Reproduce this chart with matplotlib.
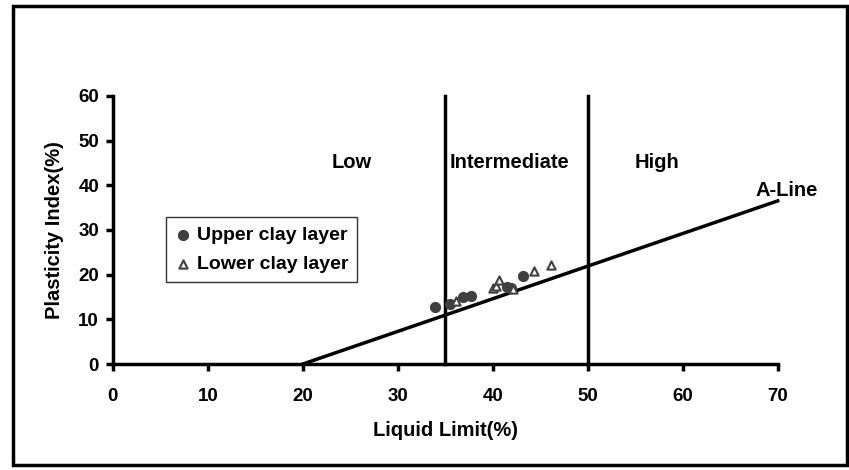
import matplotlib.pyplot as plt
from matplotlib.patches import Rectangle

plt.rcParams['font.family'] = ['Liberation Sans', 'DejaVu Sans']
plt.rcParams['font.weight'] = 'bold'

# plasticity chart data
upper_ll = [33.9, 35.5, 36.9, 37.7, 41.5, 41.9, 43.2]
upper_pi = [12.8, 13.4, 15.0, 15.2, 17.3, 16.9, 19.7]
lower_ll = [36.1, 40.0, 40.3, 40.7, 42.1, 44.3, 46.1]
lower_pi = [14.2, 17.0, 17.5, 18.7, 16.7, 20.9, 22.2]

aline_ll = [20, 70]
aline_pi = [0, 36.5]
bounds = [35, 50]
zones = ['Low', 'Intermediate', 'High']
zone_x = [25.1, 41.8, 57.3]

fig = plt.figure(figsize=(8.49, 4.70), dpi=100)
ax = fig.add_axes([0.133, 0.2255, 0.783, 0.5705])

for b in bounds:
    ax.plot([b, b], [0, 60], color='black', lw=2.5, clip_on=False, zorder=2)
ax.plot(aline_ll, aline_pi, color='black', lw=2.5, clip_on=False, zorder=2)

ax.scatter(upper_ll, upper_pi, s=50, color='#404040', marker='o', zorder=3,
           label='Upper clay layer')
ax.scatter(lower_ll, lower_pi, s=35, facecolor='white', edgecolor='#404040',
           linewidth=1.5, marker='^', zorder=3, label='Lower clay layer')

for name, x in zip(zones, zone_x):
    ax.text(x, 45, name, ha='center', va='center', fontsize=14.5, fontweight='bold')
ax.text(71.0, 38.8, 'A-Line', ha='center', va='center', fontsize=14.5, fontweight='bold')

ax.set_xlim(0, 70)
ax.set_ylim(0, 60)
ax.set_xticks(range(0, 71, 10))
ax.set_yticks(range(0, 61, 10))
ax.tick_params(width=2.5, length=5, labelsize=13.5)
ax.tick_params(axis='x', pad=12)
ax.tick_params(axis='y', pad=5)
ax.spines['top'].set_visible(False)
ax.spines['right'].set_visible(False)
ax.spines['left'].set_linewidth(2.5)
ax.spines['bottom'].set_linewidth(2.5)
ax.set_xlabel('Liquid Limit(%)', fontsize=14.5, fontweight='bold', labelpad=12)
ax.set_ylabel('Plasticity Index(%)', fontsize=14.5, fontweight='bold', labelpad=10)

leg = ax.legend(loc='upper left', bbox_to_anchor=(0.08, 0.547), fontsize=14,
                frameon=True, fancybox=False, edgecolor='black',
                handletextpad=0.35, borderpad=0.45, handlelength=0.8,
                labelspacing=0.6, borderaxespad=0)
leg.get_frame().set_linewidth(1.0)

fig.patches.append(Rectangle((0.015, 0.01), 0.983, 0.977, transform=fig.transFigure,
                             fill=False, edgecolor='black', lw=2.5))

fig.savefig('out.png', dpi=100)
